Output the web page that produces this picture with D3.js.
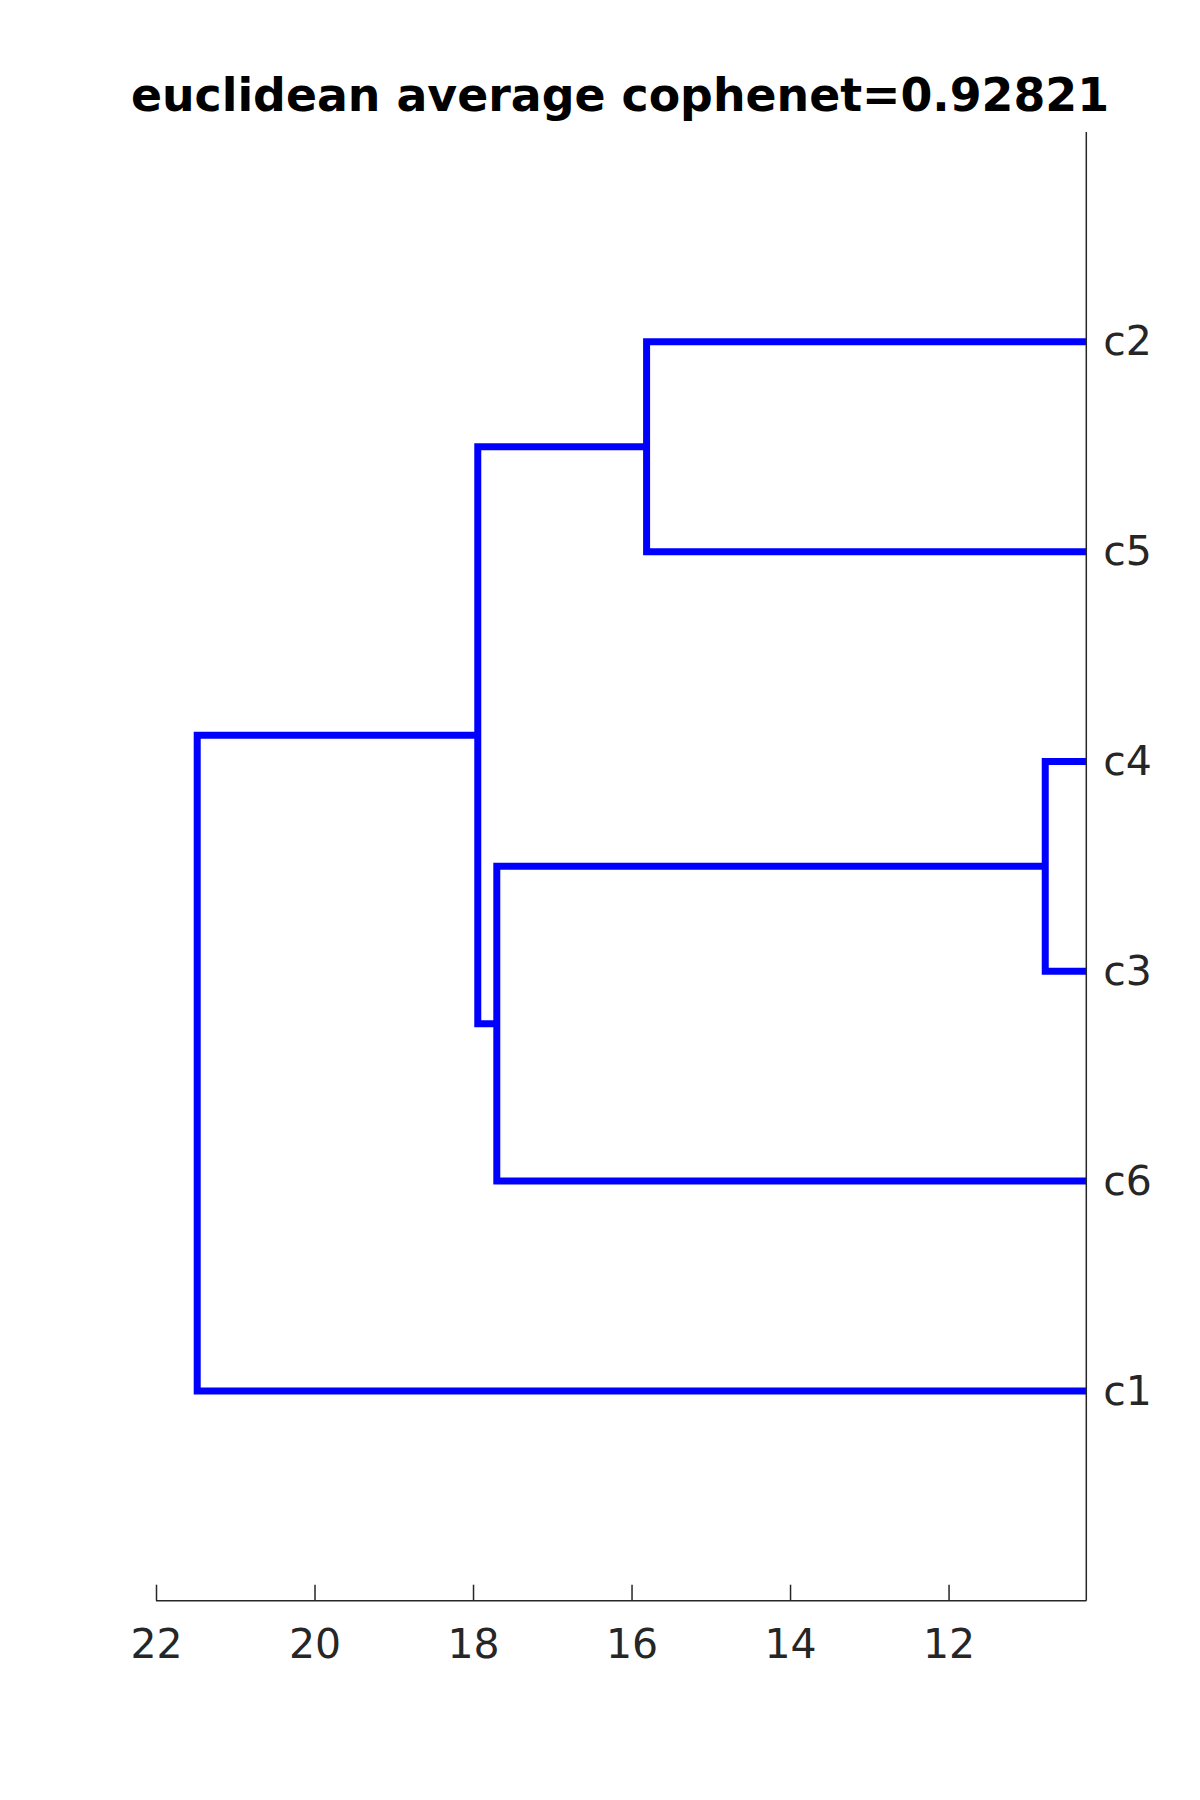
<!DOCTYPE html>
<html><head><meta charset="utf-8">
<script src="https://cdn.jsdelivr.net/npm/d3@7"></script>
<style>body{margin:0;background:#fff}</style>
</head><body>
<script>
// Leaves in display order, bottom to top
const leaves = ["c1","c6","c3","c4","c5","c2"];
// Merges: [childA, childB, height]
const mergeA = ["c4","c2","m1","m2","m4"];
const mergeB = ["c3","c5","c6","m3","c1"];
const mergeH = [10.78, 15.81, 17.70, 17.94, 21.48];
const mergeNames = ["m1","m2","m3","m4","m5"];
const xTicks = [22,20,18,16,14,12];
const titleText = "euclidean average cophenet=0.92821";

const W=1200,H=1800;
const svg=d3.select("body").append("svg").attr("width",W).attr("height",H);
const x=d3.scaleLinear().domain([22,10.262]).range([156,1086.3]);
const y=d3.scaleLinear().domain([0,7]).range([1600.7,132]);

svg.append("defs").append("clipPath").attr("id","clip").append("rect")
  .attr("x",150).attr("y",132).attr("width",1086.3-150).attr("height",1600.7-132);

// node positions
const pos={};
leaves.forEach((l,i)=>pos[l]={h:0,p:i+1});
mergeNames.forEach((m,i)=>{
  const a=pos[mergeA[i]], b=pos[mergeB[i]];
  pos[m]={h:mergeH[i],p:(a.p+b.p)/2};
});

const g=svg.append("g").attr("clip-path","url(#clip)");
mergeNames.forEach((m,i)=>{
  const a=pos[mergeA[i]], b=pos[mergeB[i]], hh=mergeH[i];
  const path=d3.path();
  path.moveTo(x(a.h),y(a.p));
  path.lineTo(x(hh),y(a.p));
  path.lineTo(x(hh),y(b.p));
  path.lineTo(x(b.h),y(b.p));
  g.append("path").attr("d",path.toString()).attr("fill","none")
   .attr("stroke","#0000ff").attr("stroke-width",7).attr("stroke-linejoin","miter");
});

// x axis
const xa=svg.append("g").attr("transform","translate(0,1600.7)")
  .call(d3.axisBottom(x).tickValues(xTicks).tickSize(-16).tickPadding(28).tickFormat(d3.format("d")));
xa.select(".domain").attr("d",`M156,0H1086.3`).attr("stroke","#262626").attr("stroke-width",1.5);
xa.selectAll(".tick line").attr("stroke","#262626").attr("stroke-width",1.5);
xa.selectAll(".tick text").attr("fill","#262626").style("font-family","DejaVu Sans").style("font-size","41px").attr("dy","0.71em");

// right axis
const ya=svg.append("g").attr("transform","translate(1086.3,0)")
  .call(d3.axisRight(y).tickValues(leaves.map((l,i)=>i+1)).tickFormat((d)=>leaves[d-1]).tickSize(0).tickPadding(17));
ya.select(".domain").attr("d","M0,132V1600.7").attr("stroke","#262626").attr("stroke-width",1.5);
ya.selectAll(".tick text").attr("fill","#262626").style("font-family","DejaVu Sans").style("font-size","41px");

svg.append("text").attr("x",620).attr("y",111).attr("text-anchor","middle")
  .style("font-family","DejaVu Sans").style("font-weight","bold").style("font-size","45.8px")
  .attr("fill","#000").text(titleText);
</script>
</body></html>
